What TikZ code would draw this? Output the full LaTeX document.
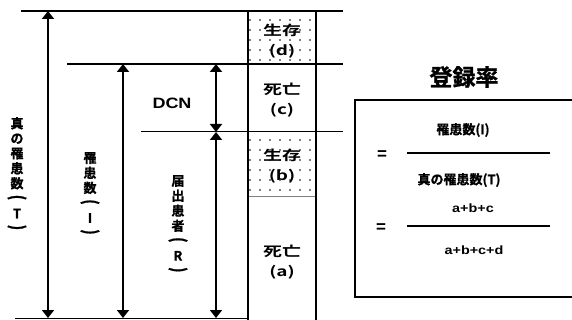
\documentclass[tikz,border=0pt]{standalone}
\usepackage{fontspec}
\usepackage{graphicx}
\setmainfont{Liberation Sans}[BoldFont={Liberation Sans Bold}]
\newfontfamily\jp{Noto Sans CJK JP Bold}[FakeBold=1.2]
\newfontfamily\jpc{Noto Sans CJK JP Bold}
\newcommand\vop{\rotatebox[origin=c]{-90}{\scalebox{1}[1.4]{\bfseries(}}}
\newcommand\vcl{\rotatebox[origin=c]{-90}{\scalebox{1}[1.4]{\bfseries)}}}
\usetikzlibrary{arrows.meta,patterns.meta}
\begin{document}
\begin{tikzpicture}[x=1pt,y=-1pt,
  tip/.style={line width=1.8pt,{Triangle[width=12pt,length=8pt]}-{Triangle[width=12pt,length=8pt]}},
  vlab/.style={inner sep=0pt,align=center,font=\jp\fontsize{13}{15}\selectfont},
  clab/.style={inner sep=0pt,align=center,font=\jpc\fontsize{13.5}{20}\selectfont},
  flab/.style={inner sep=0pt,font=\jp\fontsize{13}{15}\selectfont},
  alab/.style={inner sep=0pt,font=\bfseries\fontsize{12}{13}\selectfont},
  eqs/.style={inner sep=0pt,font=\bfseries\fontsize{17}{17}\selectfont},
  dotbox/.style={pattern={Dots[distance=10pt,radius=0.9pt]},pattern color=black}]
\useasboundingbox (0,0) rectangle (572,320);
% dotted boxes
\fill[dotbox] (248,11) rectangle (316,64);
\fill[dotbox] (248,132) rectangle (316,196);
% horizontal lines
\coordinate (t0) at (21,11);  \coordinate (t1) at (343,11);
\coordinate (h0) at (67,64);  \coordinate (h1) at (343,64);
\coordinate (m0) at (141,132);\coordinate (m1) at (343,132);
\coordinate (b0) at (15,318); \coordinate (b1) at (248,318);
\draw[line width=1.2pt] (t0) -- (t1);
\draw[line width=2.5pt] (h0) -- (h1);
\draw[line width=1pt] (m0) -- (m1);
\draw[line width=0.8pt] (b0) -- (b1);
\draw[line width=0.8pt,gray] (248,196) -- (316,196);
% column
\draw[line width=1.2pt] (248,11) -- (248,320);
\draw[line width=1.2pt] (316,11) -- (316,320);
% arrows
\coordinate (Ta) at (48,11);  \coordinate (Tb) at (48,318);
\coordinate (Ia) at (123,64); \coordinate (Ib) at (123,318);
\coordinate (Da) at (216,64); \coordinate (Db) at (216,132);
\coordinate (Rb) at (216,318);
\draw[tip] (Ta) -- (Tb);
\draw[tip] (Ia) -- (Ib);
\draw[tip] (Da) -- (Db);
\draw[tip] (Db) -- (Rb);
% vertical labels
\node[vlab,anchor=north] (lT) at (17,117) {真\\の\\罹\\患\\数\\\vop\\T\\\vcl};
\node[vlab,anchor=north] (lI) at (90,152) {罹\\患\\数\\\vop\\I\\\vcl};
\node[vlab,anchor=north] (lR) at (178,175) {届\\出\\患\\者\\\vop\\R\\\vcl};
\node[inner sep=0pt,font=\bfseries\fontsize{15}{15}\selectfont] (dcn) at (172,103) {\scalebox{1.2}[1]{DCN}};
% column labels
\node[clab] (cd) at (282,41) {\scalebox{1.4}[1]{生存}\\\scalebox{1.4}[1]{(d)}};
\node[clab] (cc) at (282,100) {\scalebox{1.4}[1]{死亡}\\\scalebox{1.4}[1]{(c)}};
\node[clab] (cb) at (282,166) {\scalebox{1.4}[1]{生存}\\\scalebox{1.4}[1]{(b)}};
\node[clab] (ca) at (282,262) {\scalebox{1.4}[1]{死亡}\\\scalebox{1.4}[1]{(a)}};
% right side
\node[inner sep=0pt,font=\jp\fontsize{23}{23}\selectfont] (title) at (464,77) {登録率};
\draw[line width=2pt] (576,100) -- (355,100) -- (355,297) -- (576,297);
\node[eqs] (eq1) at (382,155) {=};
\node[eqs] (eq2) at (381,228) {=};
\node[flab] (n1) at (463,130) {罹患数(I)};
\node[flab] (d1) at (459,180) {真の罹患数(T)};
\draw[line width=1.2pt] (407,153) -- (550,153);
\node[alab] (n2) at (473,208) {\scalebox{1.2}[1]{a+b+c}};
\node[alab] (d2) at (474,250) {\scalebox{1.2}[1]{a+b+c+d}};
\draw[line width=1.2pt] (407,226) -- (550,226);
\end{tikzpicture}
\end{document}
